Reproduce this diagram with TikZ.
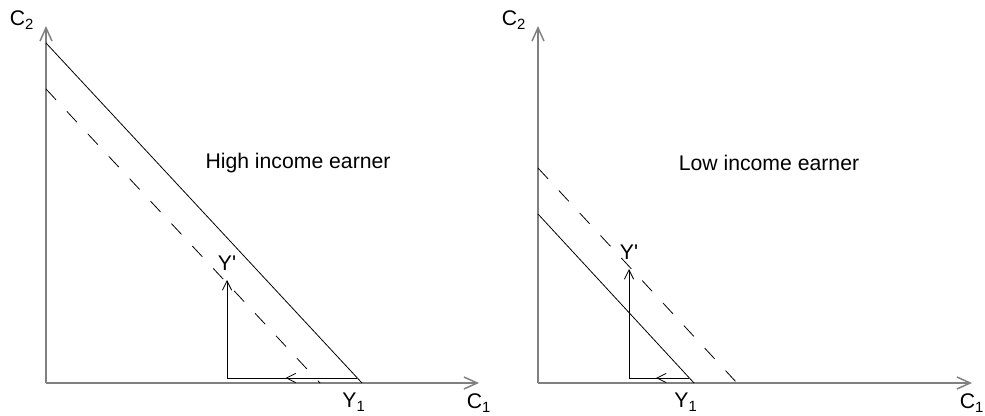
\documentclass[tikz,border=0pt]{standalone}
\usepackage{fontspec}
\setmainfont{Liberation Sans}
\usetikzlibrary{arrows.meta,decorations.markings}

\begin{document}
\begin{tikzpicture}[x=0.75pt,y=-0.75pt]
\tikzset{axis/.style={draw=black!50,line width=1.1pt,-{Straight Barb[length=10pt,width=9pt]}},
         budget/.style={line width=0.6pt},
         shifted/.style={budget,dash pattern=on 11pt off 12pt},
         rise/.style={line width=0.6pt,-{Straight Barb[length=7pt,width=7pt]}},
         fall/.style={line width=0.6pt,postaction={decorate},
             decoration={markings,mark=at position 0.55 with {\arrow{Straight Barb[length=7pt,width=7pt]}}}},
         lbl/.style={font=\fontsize{15.9}{19}\selectfont,inner sep=0pt}}
\useasboundingbox (0,0) rectangle (985,416);

% one panel each: name / origin x / end of C1 axis / solid start, end / dashed start, end / Y' x, top / title x / title
\foreach \p/\ox/\xe/\sa/\sb/\da/\db/\vx/\vt/\tx/\txt in
    {h/46/479/43/362/89/320/227/280/298/High income earner,
     l/538/972/214/694/168/737/629/269/769/Low income earner}
{
    % the axes
    \coordinate (O\p) at (\ox,383);
    \coordinate (top\p) at (\ox,26);
    \coordinate (end\p) at (\xe,383);
    \draw[axis] (O\p) -- (top\p);
    \draw[axis] (O\p) -- (end\p);
    \node[lbl] (C2\p) at (\ox-24,20) {C\textsubscript{2}};
    \node[lbl] (C1\p) at (\xe,403) {C\textsubscript{1}};

    % budget lines
    \coordinate (sa\p) at (\ox,\sa);
    \coordinate (sb\p) at (\sb,383);
    \coordinate (da\p) at (\ox,\da);
    \coordinate (db\p) at (\db,383);
    \draw[budget] (sa\p) -- (sb\p);
    \draw[shifted] (da\p) -- (db\p);
    \node[lbl] (Y1\p) at (\sb-8,402) {Y\textsubscript{1}};

    % the move from Y1 to Y'
    \coordinate (h\p) at (\sb-5,378);
    \coordinate (k\p) at (\vx,378);
    \coordinate (v\p) at (\vx,\vt);
    \draw[fall] (h\p) -- (k\p);
    \draw[rise] (k\p) -- (v\p);
    \node[lbl] (Yp\p) at (\vx,\vt-17) {Y\textquotesingle};

    \node[lbl] (title\p) at (\tx,163) {\txt};
}
\end{tikzpicture}
\end{document}
